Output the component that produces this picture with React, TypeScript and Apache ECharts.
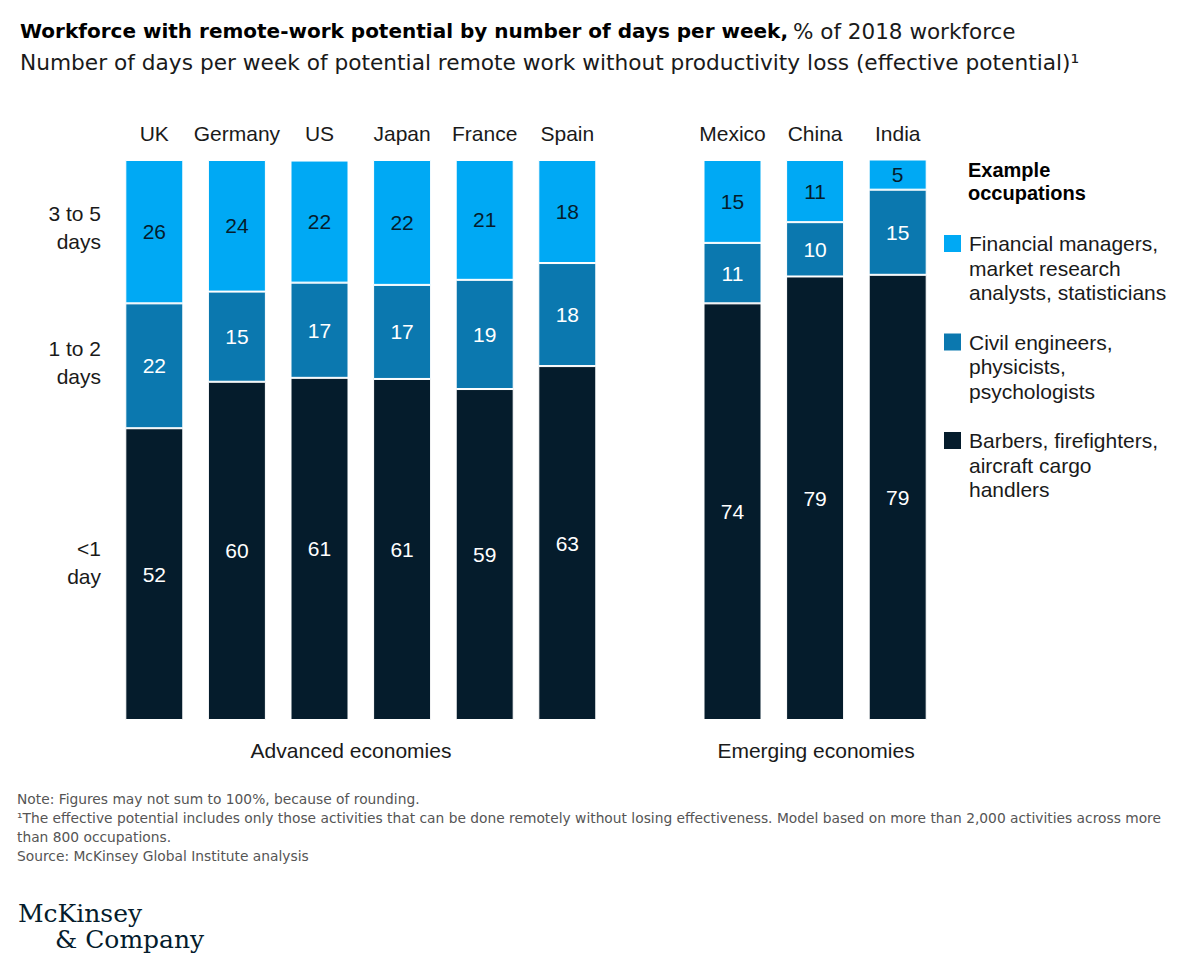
import React, { useEffect, useRef } from 'react';
import * as echarts from 'echarts';

// ---- Data ----
const countries = ['UK', 'Germany', 'US', 'Japan', 'France', 'Spain', '', 'Mexico', 'China', 'India'];
// bar segment sizes (% of 2018 workforce)
const lessThanOneDay = [52.1, 60.4, 61.1, 60.9, 59.1, 63.2, null, 74.4, 79.2, 79.5];
const oneToTwoDays = [22.3, 16.1, 17.0, 16.8, 19.5, 18.4, null, 10.8, 9.7, 15.2];
const threeToFiveDays = [25.6, 23.5, 21.8, 22.3, 21.4, 18.4, null, 14.8, 11.1, 5.4];
// printed (rounded) labels
const lessThanOneDayLabels = [52, 60, 61, 61, 59, 63, null, 74, 79, 79];
const oneToTwoDaysLabels = [22, 15, 17, 17, 19, 18, null, 11, 10, 15];
const threeToFiveDaysLabels = [26, 24, 22, 22, 21, 18, null, 15, 11, 5];

const rowLabels = ['3 to 5\ndays', '1 to 2\ndays', '<1\nday'];
const occupations = [
  'Financial managers,\nmarket research\nanalysts, statisticians',
  'Civil engineers,\nphysicists,\npsychologists',
  'Barbers, firefighters,\naircraft cargo\nhandlers',
];
const groupLabels = ['Advanced economies', 'Emerging economies'];

const LIGHT = '#00A9F4';
const MID = '#0B78AF';
const DARK = '#051C2C';
const FONT = '"Liberation Sans", Arial, sans-serif';
const WIDE = '"DejaVu Sans", "Liberation Sans", sans-serif';
const SERIF = '"DejaVu Serif", "Liberation Serif", serif';
const TEXT = '#1a1a1a';

export default function App() {
  const ref = useRef<HTMLDivElement>(null);

  useEffect(() => {
    if (!ref.current) return;
    const chart = echarts.init(ref.current, undefined, { renderer: 'svg' });

    const seriesDefs = [
      { name: occupations[2], data: lessThanOneDay, labels: lessThanOneDayLabels, color: DARK, labelColor: '#ffffff' },
      { name: occupations[1], data: oneToTwoDays, labels: oneToTwoDaysLabels, color: MID, labelColor: '#ffffff' },
      { name: occupations[0], data: threeToFiveDays, labels: threeToFiveDaysLabels, color: LIGHT, labelColor: DARK },
    ];

    const option: any = {
      animation: false,
      backgroundColor: '#ffffff',
      textStyle: { fontFamily: FONT },
      title: [
        {
          left: 20,
          top: 19,
          padding: 0,
          text: '{b|Workforce with remote-work potential by number of days per week,} {r|% of 2018 workforce}',
          textStyle: {
            rich: {
              b: { fontFamily: WIDE, fontWeight: 'bold', fontSize: 20, color: '#000000', lineHeight: 24 },
              r: { fontFamily: WIDE, fontWeight: 'normal', fontSize: 21.5, color: TEXT, lineHeight: 24 },
            },
          },
        },
        {
          left: 20,
          top: 50,
          padding: 0,
          text: 'Number of days per week of potential remote work without productivity loss (effective potential)¹',
          textStyle: { fontFamily: WIDE, fontWeight: 'normal', fontSize: 21.7, lineHeight: 24, color: TEXT },
        },
        {
          left: 17,
          top: 789.5,
          padding: 0,
          text:
            'Note: Figures may not sum to 100%, because of rounding.\n' +
            '¹The effective potential includes only those activities that can be done remotely without losing effectiveness. Model based on more than 2,000 activities across more\n' +
            'than 800 occupations.\n' +
            'Source: McKinsey Global Institute analysis',
          textStyle: { fontFamily: WIDE, fontWeight: 'normal', fontSize: 13.8, lineHeight: 19, color: '#555555' },
        },
        {
          left: 18,
          top: 900,
          padding: 0,
          text: '{a|McKinsey}\n{b|& Company}',
          textStyle: {
            fontWeight: 'normal',
            rich: {
              a: { fontFamily: SERIF, fontWeight: 'normal', fontSize: 25, lineHeight: 26, color: DARK },
              b: { fontFamily: SERIF, fontWeight: 'normal', fontSize: 25, lineHeight: 26, color: DARK, padding: [0, 0, 0, 37] },
            },
          },
        },
        {
          left: 968,
          top: 158,
          padding: 0,
          text: 'Example\noccupations',
          textStyle: { fontFamily: FONT, fontWeight: 'bold', fontSize: 20, lineHeight: 23.5, color: '#000000' },
        },
      ],
      legend: {
        orient: 'vertical',
        left: 944,
        top: 182.25,
        padding: 0,
        itemGap: -24,
        itemWidth: 17,
        itemHeight: 17,
        icon: 'rect',
        selectedMode: false,
        data: [occupations[0], occupations[1], occupations[2]],
        itemStyle: { borderWidth: 0 },
        formatter: (name: string) => '\n\n' + name,
        textStyle: {
          fontFamily: FONT,
          fontSize: 21,
          lineHeight: 24.5,
          color: TEXT,
          padding: [0, 0, 0, 3],
        },
      },
      grid: { left: 113, right: 261, top: 160, bottom: 248 },
      xAxis: {
        type: 'category',
        position: 'top',
        data: countries,
        axisLine: { show: false },
        axisTick: { show: false },
        splitLine: { show: false },
        axisLabel: { fontFamily: FONT, fontSize: 21, color: TEXT, margin: 16, interval: 0 },
      },
      yAxis: { type: 'value', min: 0, max: 100, show: false },
      series: seriesDefs.map((s) => ({
        type: 'bar',
        name: s.name,
        stack: 'total',
        barWidth: 58,
        data: s.data,
        itemStyle: { color: s.color, borderColor: '#ffffff', borderWidth: 1 },
        emphasis: { disabled: true },
        label: {
          show: true,
          position: 'inside',
          color: s.labelColor,
          fontFamily: FONT,
          fontSize: 21,
          formatter: (p: any) => (s.labels[p.dataIndex] == null ? '' : String(s.labels[p.dataIndex])),
        },
      })),
      graphic: [
        { type: 'text', x: 101, y: 227, style: { text: rowLabels[0], align: 'right', verticalAlign: 'middle', fontFamily: FONT, fontSize: 21, lineHeight: 28, fill: TEXT } },
        { type: 'text', x: 101, y: 362, style: { text: rowLabels[1], align: 'right', verticalAlign: 'middle', fontFamily: FONT, fontSize: 21, lineHeight: 28, fill: TEXT } },
        { type: 'text', x: 101, y: 562, style: { text: rowLabels[2], align: 'right', verticalAlign: 'middle', fontFamily: FONT, fontSize: 21, lineHeight: 28, fill: TEXT } },
        { type: 'text', x: 351, y: 750, style: { text: groupLabels[0], align: 'center', verticalAlign: 'middle', fontFamily: FONT, fontSize: 21, fill: TEXT } },
        { type: 'text', x: 816, y: 750, style: { text: groupLabels[1], align: 'center', verticalAlign: 'middle', fontFamily: FONT, fontSize: 21, fill: TEXT } },
      ],
    };

    chart.setOption(option);
    return () => chart.dispose();
  }, []);

  return <div ref={ref} style={{ position: 'absolute', left: 0, top: 0, width: 1200, height: 968 }} />;
}
